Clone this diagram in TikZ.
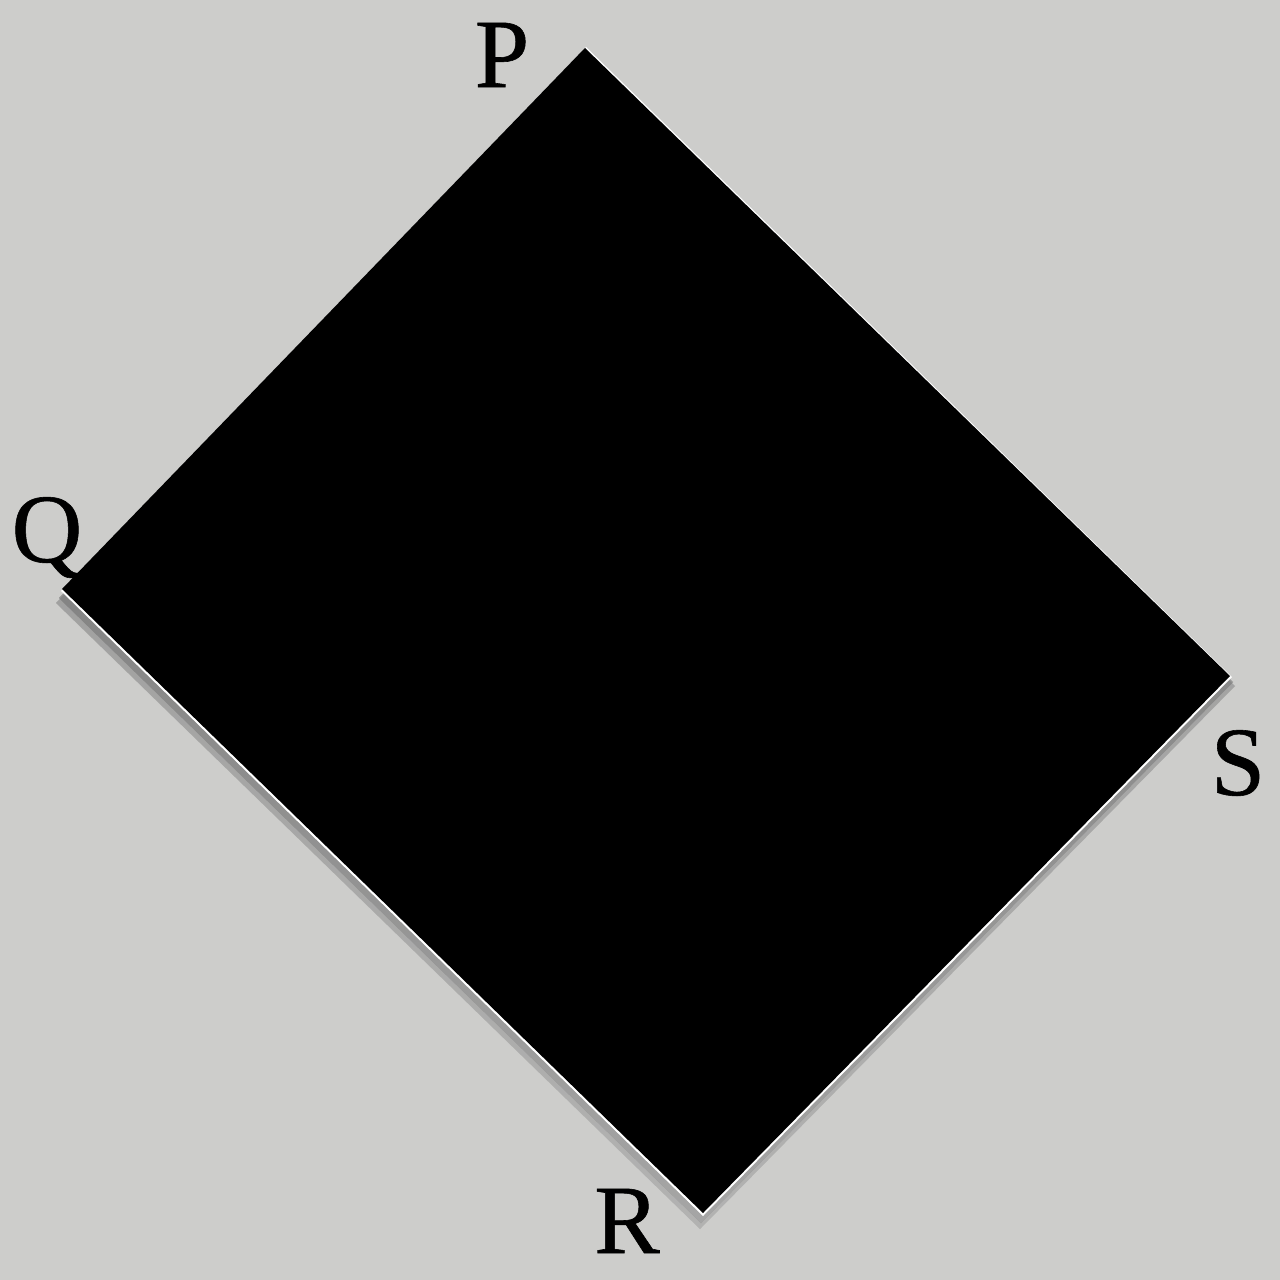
\documentclass[tikz,border=0pt]{standalone}
\usepackage{fontspec}
\setmainfont{Liberation Serif}
\newfontfamily\labfont[FakeBold=0.6]{Liberation Serif}
\definecolor{bg}{RGB}{205,205,203}
\definecolor{shade}{RGB}{140,138,134}
\begin{document}
\begin{tikzpicture}[x=0.5pt,y=-0.5pt,
  lab/.style={anchor=base,inner sep=0pt,font=\labfont\fontsize{49}{49}\selectfont,text=black}]
\fill[bg] (0,0) rectangle (1280,1280);
\useasboundingbox (0,0) rectangle (1280,1280);
\coordinate (P) at (585,48);
\coordinate (Q) at (62,589);
\coordinate (R) at (703,1213);
\coordinate (S) at (1230,676);
% soft shadow
\fill[shade,opacity=0.25] ([shift={(-6,14)}]Q) -- ([shift={(-3,16)}]R) -- ([shift={(5,10)}]S) -- (P) -- cycle;
\fill[shade,opacity=0.4] ([shift={(-3,9)}]Q) -- ([shift={(-2,10)}]R) -- ([shift={(3,6)}]S) -- (P) -- cycle;
% paper
\fill[white] ([shift={(-1,2)}]Q) -- ([shift={(0,3)}]R) -- ([shift={(2,1)}]S) -- ([shift={(1,-1)}]P) -- cycle;
\fill[black] (P) -- (Q) -- (R) -- (S) -- cycle;
\node[lab] (lP) at (502,87) {P};
\node[lab] (lQ) at (47,562) {Q};
\node[lab] (lR) at (627,1253) {R};
\node[lab] (lS) at (1238,795) {S};
\end{tikzpicture}
\end{document}
